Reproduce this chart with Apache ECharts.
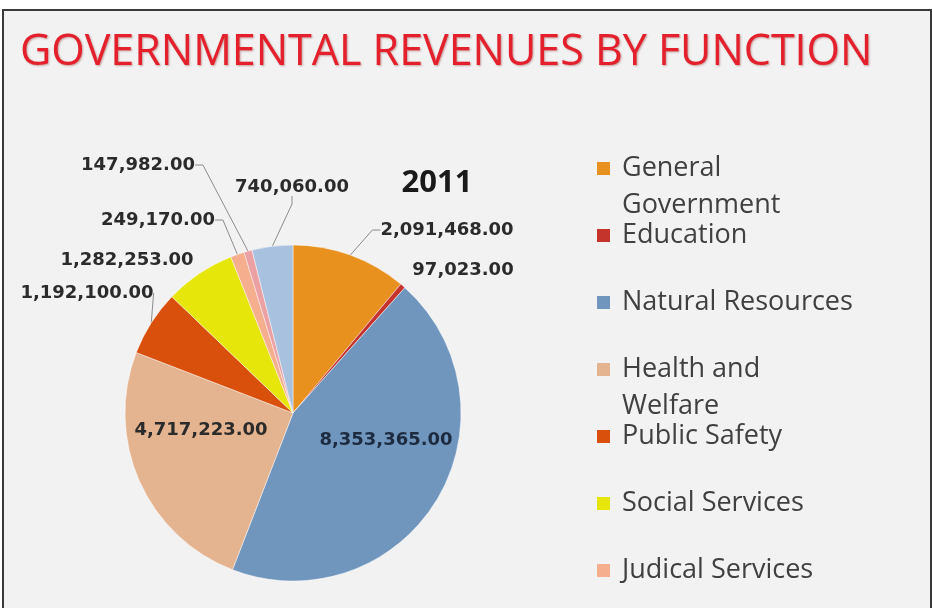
<!DOCTYPE html>
<html>
<head>
<meta charset="utf-8">
<script src="https://cdn.jsdelivr.net/npm/echarts@6/dist/echarts.min.js"></script>
<style>
html,body{margin:0;padding:0;background:#ffffff;overflow:hidden;width:932px;height:608px;}
#frame{position:absolute;left:2px;top:9px;width:926px;height:640px;border:2px solid #3a3a3a;background:#f2f2f2;}
#chart{position:absolute;left:0;top:0;width:932px;height:700px;}
</style>
</head>
<body>
<div id="frame"></div>
<div id="chart"></div>
<script>
// ---- data ----
const chartTitle = 'GOVERNMENTAL REVENUES BY FUNCTION';
const yearLabel = '2011';
const categories = ['General Government','Education','Natural Resources','Health and Welfare','Public Safety','Social Services','Judical Services','Category 8','Category 9'];
const values = [2091468, 97023, 8353365, 4717223, 1192100, 1282253, 249170, 147982, 740060];
const legendNames = ['General Government','Education','Natural Resources','Health and Welfare','Public Safety','Social Services','Judical Services'];

// ---- styles / layout ----
const colors = ['#E8911E','#C4342C','#7096BE','#E4B38F','#D8500C','#E6E60A','#F5AE8E','#EBA0A4','#A7C1DE'];
const insideIdx = [2, 3];
const noLineIdx = [1, 5];
const labelPos = [[447,230],[463,270],[386,440],[201,430],[87,293],[127,260],[158,220],[138,165],[292,187]];
const legendText = {
  'General Government': 'General\nGovernment',
  'Health and Welfare': 'Health and\nWelfare'
};

const fmt = v => v.toLocaleString('en-US', {minimumFractionDigits: 2, maximumFractionDigits: 2});

const chart = echarts.init(document.getElementById('chart'), null, {renderer: 'canvas'});
const option = {
  backgroundColor: 'transparent',
  animation: false,
  title: {
    text: chartTitle,
    left: 20, top: 31, padding: 0,
    textStyle: {fontFamily: 'Open Sans', fontSize: 43, fontWeight: 'normal', color: '#E3202B',
      textShadowColor: 'rgba(120,0,0,0.35)', textShadowBlur: 2, textShadowOffsetX: 1, textShadowOffsetY: 1}
  },
  graphic: [{
    type: 'text', x: 437, y: 183,
    style: {text: yearLabel, align: 'center', verticalAlign: 'middle', font: 'bold 31px "Open Sans"', fill: '#1a1a1a'}
  }],
  legend: {
    orient: 'vertical', left: 597, top: 150, padding: 0, itemGap: -7,
    itemWidth: 20, itemHeight: 74,
    icon: 'path://M0,12h13v13h-13z M0,0L0.01,0 M20,74L20.01,74',
    itemStyle: {borderWidth: 0},
    selectedMode: false,
    data: legendNames,
    formatter: n => legendText[n] || (n + '\n '),
    textStyle: {fontFamily: 'Open Sans', fontSize: 27, lineHeight: 37, color: '#404040'}
  },
  series: [{
    type: 'pie',
    center: [293, 413],
    radius: 168,
    startAngle: 90,
    clockwise: true,
    avoidLabelOverlap: false,
    itemStyle: {borderColor: 'rgba(255,255,255,0.45)', borderWidth: 1},
    label: {
      show: true, position: 'outside',
      formatter: p => fmt(p.value),
      fontFamily: 'DejaVu Sans', fontWeight: 'bold', fontSize: 18, color: '#2b2b2b'
    },
    labelLine: {show: true, length: 10, length2: 8, lineStyle: {color: '#8c8c8c', width: 1}},
    labelLayout: p => ({x: labelPos[p.dataIndex][0], y: labelPos[p.dataIndex][1], align: 'center', verticalAlign: 'middle'}),
    emphasis: {disabled: true},
    data: categories.map((c, i) => ({
      name: c, value: values[i],
      itemStyle: {color: colors[i]},
      label: insideIdx.includes(i) ? {color: i === 2 ? '#1c2b40' : '#2b2b2b'} : undefined,
      labelLine: (insideIdx.includes(i) || noLineIdx.includes(i)) ? {show: false} : undefined
    }))
  }]
};
chart.setOption(option);
</script>
</body>
</html>
